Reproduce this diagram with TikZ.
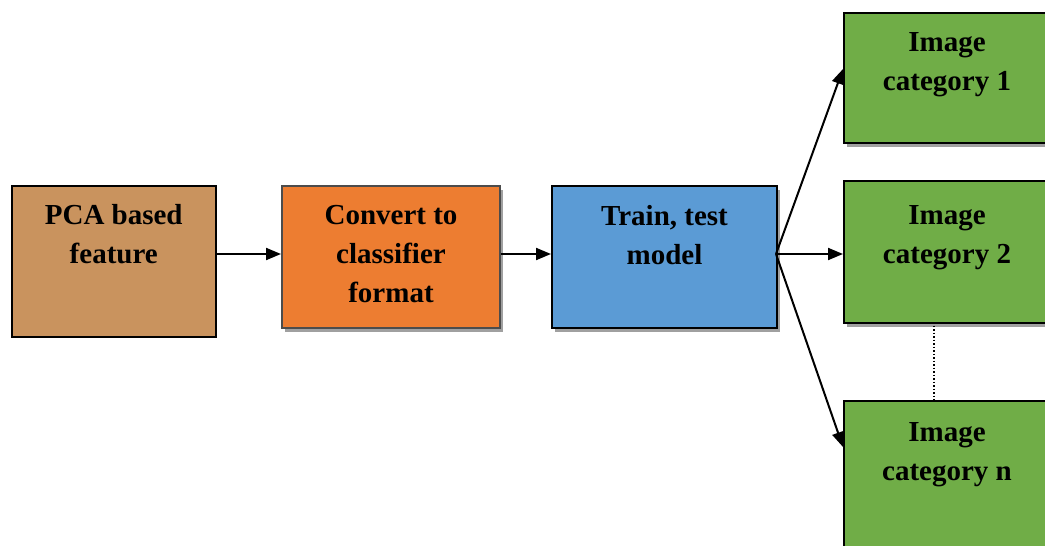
\documentclass[tikz,border=0pt]{standalone}
\usepackage{fontspec}
\setmainfont{Liberation Serif}
\usetikzlibrary{arrows.meta}
\definecolor{tanfill}{RGB}{201,147,94}
\definecolor{orangefill}{RGB}{237,125,49}
\definecolor{bluefill}{RGB}{91,155,213}
\definecolor{greenfill}{RGB}{112,173,71}
\definecolor{shadowgray}{RGB}{160,160,160}
\tikzset{
  box/.style={draw=black, line width=2pt, anchor=north west, inner sep=0pt},
  shadowed/.style={preaction={fill=shadowgray, transform canvas={shift={(3pt,-4pt)}}}},
  lbl/.style={anchor=north, inner sep=0pt, align=center, font=\fontsize{29}{39}\selectfont\bfseries},
  arr/.style={draw=black, line width=2pt, -{Triangle[length=15pt,width=12pt]}}
}
\begin{document}
\begin{tikzpicture}[x=1pt,y=-1pt]
\useasboundingbox (0,0) rectangle (1045,546);
% boxes
\node[box, fill=tanfill, line width=1.5pt, minimum width=204pt, minimum height=151pt] (pca) at (11,185) {};
\node[box, shadowed, fill=orangefill, draw=black!70, minimum width=218pt, minimum height=142pt] (conv) at (281,185) {};
\node[box, shadowed, fill=bluefill, minimum width=225pt, minimum height=142pt] (train) at (551,185) {};
\node[box, shadowed, fill=greenfill, minimum width=206pt, minimum height=130pt] (cat1) at (843,12) {};
\node[box, shadowed, fill=greenfill, minimum width=206pt, minimum height=142pt] (cat2) at (843,180) {};
\node[box, fill=greenfill, minimum width=206pt, minimum height=150pt] (catn) at (843,400) {};
% labels
\node[lbl] (tpca) at ([yshift=-19pt]pca.north) {PCA based\\feature};
\node[lbl] (tconv) at ([yshift=-20pt]conv.north) {Convert to\\classifier\\format};
\node[lbl] (ttrain) at ([yshift=-20pt]train.north) {Train, test\\model};
\node[lbl] (tcat1) at ([yshift=-20pt]cat1.north) {Image\\category 1};
\node[lbl] (tcat2) at ([yshift=-25pt]cat2.north) {Image\\category 2};
\node[lbl] (tcatn) at ([yshift=-22pt]catn.north) {Image\\category n};
% connectors
\coordinate (src) at (776,254);
\draw[arr] (pca.east |- src) -- (conv.west |- src);
\draw[arr] (conv.east |- src) -- (train.west |- src);
\draw[arr] (src) -- (cat2.west |- src);
\draw[arr] (src) -- (843,69);
\draw[arr] (src) -- (843,447);
\draw[black, line width=1.5pt, dotted] (934,322) -- (catn.north -| 934,0);
\end{tikzpicture}
\end{document}
